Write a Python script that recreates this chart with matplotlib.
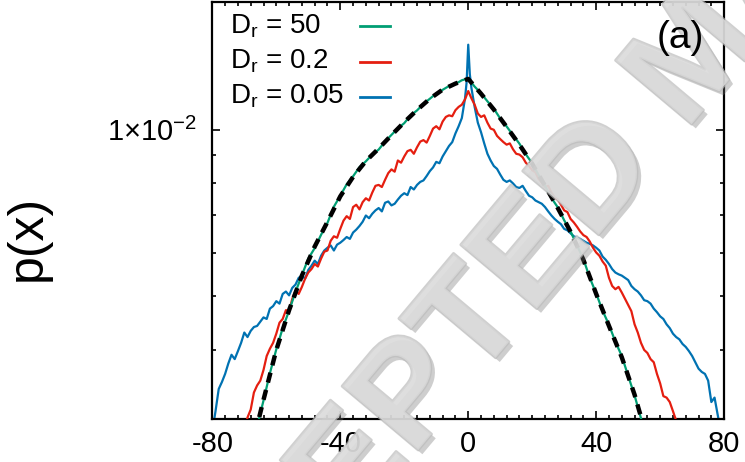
import numpy as np
import matplotlib.pyplot as plt
import matplotlib.patheffects as pe

plt.rcParams["font.family"] = ["Liberation Sans", "DejaVu Sans"]
plt.rcParams["mathtext.fontset"] = "custom"
plt.rcParams["mathtext.rm"] = "Liberation Sans"
plt.rcParams["mathtext.it"] = "Liberation Sans:italic"
plt.rcParams["axes.unicode_minus"] = False

# p(x) values in units of 1e-3
x_green = [-68, -66, -64, -62, -60, -58, -56, -54, -52, -50, -48, -46, -44, -42, -40, -38, -36, -34,
           -32, -30, -28, -26, -24, -22, -20, -18, -16, -14, -12, -10, -8, -6, -4, -2, 0,
           2, 4, 6, 8, 10, 12, 14, 16, 18, 20, 22, 24, 26, 28, 30, 32, 34, 36, 38, 40,
           42, 44, 46, 48, 50, 52, 54, 56]
p_green = [2.62, 2.91, 3.24, 3.63, 4.01, 4.38, 4.71, 5.09, 5.46, 5.85, 6.11, 6.46, 6.79, 7.26, 7.60, 7.97, 8.24, 8.56,
           8.77, 9.02, 9.21, 9.52, 9.79, 10.06, 10.28, 10.62, 10.84, 11.14, 11.38, 11.63, 11.81, 12.00, 12.10, 12.29, 12.38,
           11.97, 11.64, 11.26, 10.92, 10.48, 10.14, 9.78, 9.44, 9.03, 8.70, 8.28, 7.92, 7.53, 7.24, 6.86, 6.55, 6.18, 5.84, 5.40, 5.06,
           4.71, 4.44, 4.14, 3.90, 3.59, 3.31, 3.01, 2.75]

x_theory = [-68, -64, -60, -56, -52, -48, -44, -40, -36, -32, -28, -24, -20, -16, -12, -8, -4, 0,
            4, 8, 12, 16, 20, 24, 28, 32, 36, 40, 44, 48, 52, 56]
p_theory = [2.62, 3.25, 4.00, 4.72, 5.45, 6.15, 6.82, 7.58, 8.22, 8.78, 9.25, 9.78, 10.32, 10.86, 11.38, 11.82, 12.12, 12.36,
            11.62, 10.88, 10.12, 9.40, 8.68, 7.92, 7.22, 6.54, 5.82, 5.05, 4.42, 3.88, 3.32, 2.76]

x_red = list(range(-70, 67))
p_red = [2.85, 3.02, 3.12, 3.35, 3.45, 3.52, 3.68, 3.90, 4.02, 4.12, 4.28, 4.48, 4.55, 4.72, 4.70, 4.95, 5.12, 5.05, 5.20, 5.38,
         5.52, 5.60, 5.72, 5.66, 5.85, 6.02, 6.05, 6.30, 6.42, 6.38, 6.62, 6.85, 6.98, 6.90, 7.25, 7.32, 7.18, 7.40, 7.52, 7.45,
         7.70, 7.92, 7.95, 7.88, 8.12, 8.35, 8.48, 8.40, 8.80, 8.72, 8.95, 9.15, 9.20, 9.05, 9.30, 9.52, 9.58, 9.48, 9.75, 10.05,
         10.15, 10.02, 10.35, 10.55, 10.62, 10.58, 10.85, 11.00, 11.10, 11.35, 11.75, 11.40, 11.10, 10.70, 10.55, 10.62, 10.30, 10.05, 10.00, 9.75,
         9.62, 9.50, 9.40, 9.45, 9.22, 9.05, 9.02, 8.92, 8.72, 8.60, 8.45, 8.38, 8.15, 8.02, 7.88, 7.92, 7.70, 7.55, 7.48, 7.32,
         7.15, 7.10, 6.90, 6.80, 6.68, 6.55, 6.45, 6.40, 6.28, 6.12, 6.00, 5.92, 5.78, 5.68, 5.40, 5.22, 5.15, 5.20, 5.08, 4.95,
         4.82, 4.70, 4.45, 4.30, 4.12, 4.00, 3.95, 3.85, 3.80, 3.62, 3.48, 3.30, 3.28, 3.22, 3.10, 2.98, 2.88]

x_blue = list(range(-80, 0)) + [-0.5, 0, 0.5] + list(range(1, 80))
p_blue = [2.85, 3.10, 3.40, 3.50, 3.62, 3.78, 3.92, 3.85, 3.98, 4.12, 4.30, 4.22, 4.33, 4.40, 4.42, 4.50, 4.58, 4.55, 4.75, 4.80,
          4.90, 4.85, 5.05, 5.10, 5.02, 5.18, 5.25, 5.40, 5.45, 5.38, 5.58, 5.68, 5.80, 5.72, 5.92, 6.05, 6.12, 6.18, 6.05, 6.20,
          6.25, 6.32, 6.40, 6.35, 6.52, 6.60, 6.70, 6.82, 7.00, 6.92, 7.05, 7.15, 7.22, 7.12, 7.38, 7.42, 7.30, 7.35, 7.48, 7.60,
          7.68, 7.62, 7.88, 7.80, 7.95, 8.05, 8.10, 8.25, 8.42, 8.55, 8.75, 8.70, 8.95, 9.15, 9.35, 9.50, 9.85, 10.15, 10.50, 11.40,
          12.20, 14.25, 12.60,
          11.90, 11.00, 10.30, 9.90, 9.45, 9.05, 8.80, 8.60, 8.50, 8.30, 8.12, 8.05, 8.10, 8.00, 7.88, 7.85, 7.92, 7.75, 7.60, 7.55,
          7.45, 7.40, 7.35, 7.25, 7.12, 7.00, 6.90, 6.82, 6.75, 6.62, 6.58, 6.50, 6.42, 6.38, 6.35, 6.30, 6.25, 6.22, 6.18, 6.12,
          6.05, 5.90, 5.82, 5.72, 5.60, 5.52, 5.48, 5.45, 5.40, 5.35, 5.22, 5.15, 5.10, 5.02, 4.92, 4.90, 4.85, 4.75, 4.68, 4.60,
          4.55, 4.45, 4.38, 4.28, 4.22, 4.18, 4.10, 4.05, 3.98, 3.90, 3.80, 3.70, 3.65, 3.62, 3.52, 3.22, 3.28, 3.05, 2.85]

labels = [r"$\mathregular{D_r}$ = 50", r"$\mathregular{D_r}$ = 0.2", r"$\mathregular{D_r}$ = 0.05"]
colors = ["#009e73", "#e51e10", "#0072b2"]
xticks = [-80, -40, 0, 40, 80]

fig = plt.figure(figsize=(7.45, 4.62), dpi=100)
ax = fig.add_axes([0.285, 0.093, 0.687, 0.902])

ax.plot(x_blue, np.array(p_blue) * 1e-3, color=colors[2], lw=1.6, zorder=2)
ax.plot(x_red, np.array(p_red) * 1e-3, color=colors[1], lw=1.6, zorder=3)
ax.plot(x_green, np.array(p_green) * 1e-3, color=colors[0], lw=1.6, zorder=4)
ax.plot(x_theory, np.array(p_theory) * 1e-3, color="black", lw=3.2, dashes=(2.3, 1.7), zorder=5)

ax.set_yscale("log")
ax.set_xlim(-80, 80)
ax.set_ylim(3e-3, 1.7e-2)
ax.set_xticks(xticks, labels=[str(t) for t in xticks])
ax.set_xticks(np.arange(-80, 81, 4), minor=True)
ax.set_yticks([1e-2], labels=[r"$\mathregular{1{\times}10^{-2}}$"])
ax.set_yticks([3e-3, 4e-3, 5e-3, 6e-3, 7e-3, 8e-3, 9e-3], minor=True)
ax.yaxis.set_minor_formatter(plt.NullFormatter())

ax.tick_params(which="both", direction="in", top=True, right=True, width=1.2, labelsize=21)
ax.tick_params(which="major", length=6)
ax.tick_params(which="minor", length=3.2)
ax.tick_params(axis="x", pad=8)
ax.tick_params(axis="y", pad=11)
for s in ax.spines.values():
   s.set_linewidth(1.6)

fig.text(0.037, 0.485, "p(x)", rotation=90, fontsize=36, ha="center", va="center")

# legend: text on the left, line sample on the right
for i in range(3):
   ax.text(0.035, 0.926 - 0.084 * i, labels[i], transform=ax.transAxes, fontsize=20, va="baseline", ha="left")
   ax.plot([0.288, 0.347], [0.942 - 0.085 * i] * 2, transform=ax.transAxes, color=colors[i], lw=2)

fig.text(0.913, 0.918, "(a)", fontsize=28, ha="center", va="center", zorder=12)

# watermark
fig.text(0.937, 0.874, "ACCEPTED MANUSCRIPT", fontsize=104, fontweight="bold", color="#dcdcdc", alpha=0.7,
         rotation=50, rotation_mode="anchor", ha="center", va="center", zorder=10,
         path_effects=[pe.SimplePatchShadow(offset=(3, -3), shadow_rgbFace="0.45", alpha=0.35),
                       pe.withStroke(linewidth=2, foreground="#bcbcbc")])

fig.savefig("out.png", dpi=100)
